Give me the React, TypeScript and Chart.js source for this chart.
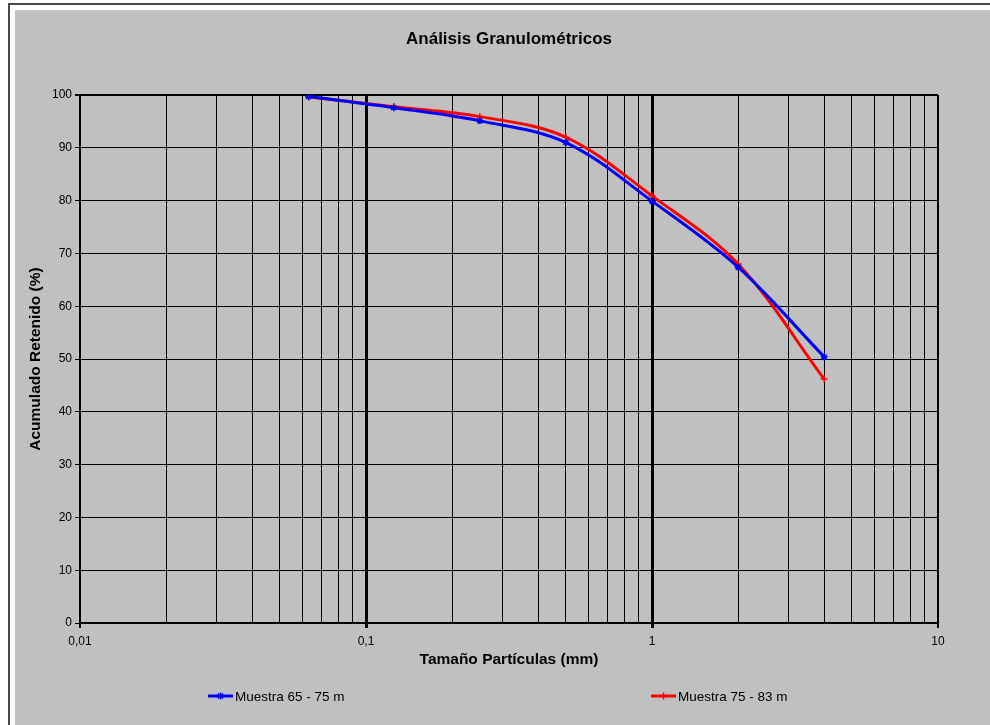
import React, { useEffect, useRef } from "react";
import { Chart, registerables } from "chart.js";

Chart.register(...registerables);

const FONT = "'Liberation Sans', Arial, sans-serif";

// Particle sizes (mm) of the sieve points
const sizes = [0.063, 0.125, 0.25, 0.5, 1, 2, 4];
// Cumulative retained (%)
const muestra1 = [99.7, 97.6, 95.1, 91.0, 79.9, 67.4, 50.4];
const muestra2 = [99.6, 97.8, 95.9, 92.0, 80.9, 68.0, 46.2];

const seriesLabels = ["Muestra 65 - 75 m", "Muestra 75 - 83 m"];
const seriesColors = ["#0000FF", "#FF0000"];

// Log-axis grid values and labelled decades
const xGridValues = [
  0.01, 0.02, 0.03, 0.04, 0.05, 0.06, 0.07, 0.08, 0.09,
  0.1, 0.2, 0.3, 0.4, 0.5, 0.6, 0.7, 0.8, 0.9,
  1, 2, 3, 4, 5, 6, 7, 8, 9, 10,
];
const xMajorTicks = [0.01, 0.1, 1, 10];
const xMajorLabels = ["0,01", "0,1", "1", "10"];

const yMin = 0;
const yMax = 100;
const yStep = 10;

function majorIndex(v: number) {
  return xMajorTicks.findIndex((m) => Math.abs(Math.log10(v) - Math.log10(m)) < 1e-6);
}

const legendPlugin = {
  id: "customLegend",
  afterDraw(chart: any) {
    const ctx = chart.ctx;
    const y = 686;
    const items = [
      { x: 193, label: seriesLabels[0], color: seriesColors[0], marker: "star" },
      { x: 636, label: seriesLabels[1], color: seriesColors[1], marker: "cross" },
    ];
    ctx.save();
    items.forEach((it) => {
      ctx.strokeStyle = it.color;
      ctx.lineWidth = 3;
      ctx.beginPath();
      ctx.moveTo(it.x, y);
      ctx.lineTo(it.x + 25, y);
      ctx.stroke();
      const cx = it.x + 12.5;
      ctx.lineWidth = 1.5;
      ctx.beginPath();
      ctx.moveTo(cx, y - 3.5);
      ctx.lineTo(cx, y + 3.5);
      if (it.marker === "star") {
        ctx.moveTo(cx - 2.5, y - 2.5);
        ctx.lineTo(cx + 2.5, y + 2.5);
        ctx.moveTo(cx - 2.5, y + 2.5);
        ctx.lineTo(cx + 2.5, y - 2.5);
      }
      ctx.stroke();
      ctx.fillStyle = "#000";
      ctx.font = `13.5px ${FONT}`;
      ctx.textBaseline = "middle";
      ctx.textAlign = "left";
      ctx.fillText(it.label, it.x + 27, y + 1);
    });
    ctx.restore();
  },
};

export default function App() {
  const canvasRef = useRef<HTMLCanvasElement | null>(null);

  useEffect(() => {
    if (!canvasRef.current) return;
    const chart = new Chart(canvasRef.current, {
      type: "line",
      data: {
        datasets: [
          {
            label: seriesLabels[0],
            data: sizes.map((x, i) => ({ x, y: muestra1[i] })),
            borderColor: seriesColors[0],
            backgroundColor: seriesColors[0],
            borderWidth: 3,
            pointStyle: "star",
            pointRadius: 3.5,
            pointBorderWidth: 1.5,
            tension: 0.35,
            fill: false,
          },
          {
            label: seriesLabels[1],
            data: sizes.map((x, i) => ({ x, y: muestra2[i] })),
            borderColor: seriesColors[1],
            backgroundColor: seriesColors[1],
            borderWidth: 3,
            pointStyle: "cross",
            pointRadius: 3.5,
            pointBorderWidth: 1.5,
            tension: 0.35,
            fill: false,
          },
        ],
      },
      options: {
        animation: false,
        responsive: false,
        devicePixelRatio: 1,
        layout: { padding: { left: 0, right: 52, top: 0, bottom: 56 } },
        plugins: {
          legend: { display: false },
          tooltip: { enabled: false },
          title: {
            display: true,
            text: "Análisis Granulométricos",
            color: "#000",
            fullSize: false,
            font: { family: FONT, size: 17, weight: "bold" },
            padding: { top: 19, bottom: 45.6 },
          },
        },
        scales: {
          x: {
            type: "logarithmic",
            position: "bottom",
            min: xMajorTicks[0],
            max: xMajorTicks[xMajorTicks.length - 1],
            afterBuildTicks: (s: any) => {
              s.ticks = xGridValues.map((v) => ({ value: v }));
            },
            afterFit: (s: any) => {
              s.height = 46;
            },
            ticks: {
              autoSkip: false,
              maxRotation: 0,
              minRotation: 0,
              padding: 6,
              color: "#000",
              font: { family: FONT, size: 12 },
              callback: (v: any) => {
                const i = majorIndex(Number(v));
                return i >= 0 ? xMajorLabels[i] : "";
              },
            },
            grid: {
              color: "#000",
              lineWidth: (c: any) => {
                const v = c.tick ? c.tick.value : 0;
                const i = majorIndex(v);
                if (i === 1 || i === 2) return 3;
                if (i === 0 || i === 3) return 2;
                return 1;
              },
              tickLength: 5,
              tickColor: (c: any) => {
                const v = c.tick ? c.tick.value : 0;
                return majorIndex(v) >= 0 ? "#000" : "rgba(0,0,0,0)";
              },
            },
            border: { color: "#000", width: 2 },
            title: {
              display: true,
              text: "Tamaño Partículas (mm)",
              color: "#000",
              font: { family: FONT, size: 15.5, weight: "bold" },
              padding: { top: 0, bottom: 0 },
            },
          },
          y: {
            min: yMin,
            max: yMax,
            afterFit: (s: any) => {
              s.width = 65;
            },
            ticks: {
              stepSize: yStep,
              padding: 3,
              color: "#000",
              font: { family: FONT, size: 12 },
            },
            grid: {
              color: "#000",
              lineWidth: (c: any) => (c.tick && c.tick.value === yMax ? 2 : 1),
              tickLength: 5,
            },
            border: { color: "#000", width: 2 },
            title: {
              display: true,
              text: "Acumulado Retenido (%)",
              color: "#000",
              font: { family: FONT, size: 15.5, weight: "bold" },
              padding: { top: 11, bottom: 0 },
            },
          },
        },
      } as any,
      plugins: [legendPlugin],
    });
    return () => chart.destroy();
  }, []);

  return (
    <div
      style={{
        position: "fixed",
        left: 0,
        top: 0,
        width: 990,
        height: 725,
        background: "#FFFFFF",
        overflow: "hidden",
      }}
    >
      <div style={{ position: "absolute", left: 8, top: 3, width: 982, height: 2, background: "#4A4A4A" }} />
      <div style={{ position: "absolute", left: 8, top: 3, width: 2, height: 722, background: "#4A4A4A" }} />
      <canvas
        ref={canvasRef}
        width={975}
        height={715}
        style={{ position: "absolute", left: 15, top: 10, width: 975, height: 715, background: "#C0C0C0" }}
      />
    </div>
  );
}
